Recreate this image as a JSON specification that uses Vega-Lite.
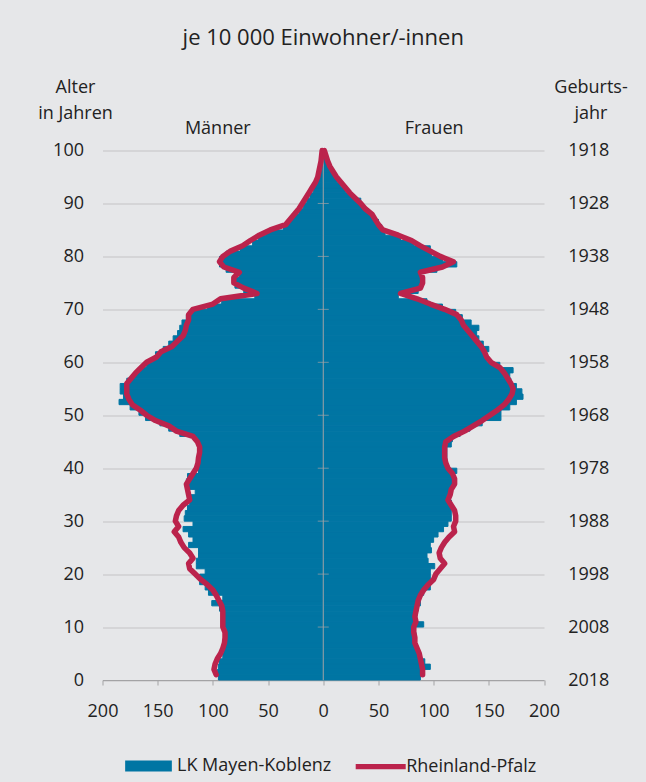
{
  "$schema": "https://vega.github.io/schema/vega-lite/v6.json",
  "width": 441.5,
  "height": 529.5,
  "autosize": {"type": "none"},
  "padding": {"left": 102.5, "top": 150.5, "right": 102, "bottom": 102},
  "background": "#e6e7e9",
  "title": {"text": "je 10 000 Einwohner/-innen", "fontSize": 22, "fontWeight": "normal", "font": "Open Sans", "color": "#222222", "anchor": "middle", "frame": "group", "offset": 28},
  "data": {"values": [
    {"age":0,"age_end":1,"sex":"M","lk":-95,"rp":-97},
    {"age":1,"age_end":2,"sex":"M","lk":-96,"rp":-99},
    {"age":2,"age_end":3,"sex":"M","lk":-95,"rp":-98},
    {"age":3,"age_end":4,"sex":"M","lk":-94,"rp":-96},
    {"age":4,"age_end":5,"sex":"M","lk":-91,"rp":-93},
    {"age":5,"age_end":6,"sex":"M","lk":-90,"rp":-91},
    {"age":6,"age_end":7,"sex":"M","lk":-89,"rp":-89.5},
    {"age":7,"age_end":8,"sex":"M","lk":-88,"rp":-89},
    {"age":8,"age_end":9,"sex":"M","lk":-88,"rp":-89},
    {"age":9,"age_end":10,"sex":"M","lk":-88,"rp":-91},
    {"age":10,"age_end":11,"sex":"M","lk":-90,"rp":-91},
    {"age":11,"age_end":12,"sex":"M","lk":-90,"rp":-91},
    {"age":12,"age_end":13,"sex":"M","lk":-90,"rp":-91},
    {"age":13,"age_end":14,"sex":"M","lk":-94,"rp":-92},
    {"age":14,"age_end":15,"sex":"M","lk":-101,"rp":-94.5},
    {"age":15,"age_end":16,"sex":"M","lk":-91,"rp":-97},
    {"age":16,"age_end":17,"sex":"M","lk":-104,"rp":-100},
    {"age":17,"age_end":18,"sex":"M","lk":-107,"rp":-105},
    {"age":18,"age_end":19,"sex":"M","lk":-112,"rp":-111},
    {"age":19,"age_end":20,"sex":"M","lk":-112,"rp":-116},
    {"age":20,"age_end":21,"sex":"M","lk":-107,"rp":-121},
    {"age":21,"age_end":22,"sex":"M","lk":-115,"rp":-122},
    {"age":22,"age_end":23,"sex":"M","lk":-115,"rp":-118},
    {"age":23,"age_end":24,"sex":"M","lk":-113,"rp":-121},
    {"age":24,"age_end":25,"sex":"M","lk":-113,"rp":-126},
    {"age":25,"age_end":26,"sex":"M","lk":-122,"rp":-129},
    {"age":26,"age_end":27,"sex":"M","lk":-118,"rp":-131},
    {"age":27,"age_end":28,"sex":"M","lk":-122,"rp":-135},
    {"age":28,"age_end":29,"sex":"M","lk":-127,"rp":-131},
    {"age":29,"age_end":30,"sex":"M","lk":-118,"rp":-134},
    {"age":30,"age_end":31,"sex":"M","lk":-126,"rp":-133},
    {"age":31,"age_end":32,"sex":"M","lk":-125,"rp":-131},
    {"age":32,"age_end":33,"sex":"M","lk":-123,"rp":-127},
    {"age":33,"age_end":34,"sex":"M","lk":-121,"rp":-121},
    {"age":34,"age_end":35,"sex":"M","lk":-122,"rp":-122},
    {"age":35,"age_end":36,"sex":"M","lk":-116,"rp":-123},
    {"age":36,"age_end":37,"sex":"M","lk":-124,"rp":-124},
    {"age":37,"age_end":38,"sex":"M","lk":-124,"rp":-121},
    {"age":38,"age_end":39,"sex":"M","lk":-123,"rp":-118},
    {"age":39,"age_end":40,"sex":"M","lk":-113,"rp":-115},
    {"age":40,"age_end":41,"sex":"M","lk":-113,"rp":-113.5},
    {"age":41,"age_end":42,"sex":"M","lk":-112,"rp":-113},
    {"age":42,"age_end":43,"sex":"M","lk":-112,"rp":-112},
    {"age":43,"age_end":44,"sex":"M","lk":-112,"rp":-112},
    {"age":44,"age_end":45,"sex":"M","lk":-112,"rp":-114},
    {"age":45,"age_end":46,"sex":"M","lk":-114,"rp":-118},
    {"age":46,"age_end":47,"sex":"M","lk":-130,"rp":-133},
    {"age":47,"age_end":48,"sex":"M","lk":-140,"rp":-140},
    {"age":48,"age_end":49,"sex":"M","lk":-148,"rp":-152},
    {"age":49,"age_end":50,"sex":"M","lk":-161,"rp":-160},
    {"age":50,"age_end":51,"sex":"M","lk":-167,"rp":-166},
    {"age":51,"age_end":52,"sex":"M","lk":-175,"rp":-173},
    {"age":52,"age_end":53,"sex":"M","lk":-185,"rp":-176},
    {"age":53,"age_end":54,"sex":"M","lk":-181,"rp":-178},
    {"age":54,"age_end":55,"sex":"M","lk":-184,"rp":-178},
    {"age":55,"age_end":56,"sex":"M","lk":-184,"rp":-178},
    {"age":56,"age_end":57,"sex":"M","lk":-178,"rp":-174},
    {"age":57,"age_end":58,"sex":"M","lk":-172,"rp":-170},
    {"age":58,"age_end":59,"sex":"M","lk":-167,"rp":-165},
    {"age":59,"age_end":60,"sex":"M","lk":-160,"rp":-160},
    {"age":60,"age_end":61,"sex":"M","lk":-154,"rp":-151},
    {"age":61,"age_end":62,"sex":"M","lk":-152,"rp":-147},
    {"age":62,"age_end":63,"sex":"M","lk":-145,"rp":-137},
    {"age":63,"age_end":64,"sex":"M","lk":-140,"rp":-132},
    {"age":64,"age_end":65,"sex":"M","lk":-136,"rp":-127},
    {"age":65,"age_end":66,"sex":"M","lk":-132,"rp":-125},
    {"age":66,"age_end":67,"sex":"M","lk":-130,"rp":-124},
    {"age":67,"age_end":68,"sex":"M","lk":-128,"rp":-122},
    {"age":68,"age_end":69,"sex":"M","lk":-124,"rp":-122},
    {"age":69,"age_end":70,"sex":"M","lk":-120,"rp":-118},
    {"age":70,"age_end":71,"sex":"M","lk":-105,"rp":-100},
    {"age":71,"age_end":72,"sex":"M","lk":-92,"rp":-93},
    {"age":72,"age_end":73,"sex":"M","lk":-62,"rp":-60},
    {"age":73,"age_end":74,"sex":"M","lk":-72,"rp":-72},
    {"age":74,"age_end":75,"sex":"M","lk":-80,"rp":-81},
    {"age":75,"age_end":76,"sex":"M","lk":-80,"rp":-81},
    {"age":76,"age_end":77,"sex":"M","lk":-76,"rp":-76},
    {"age":77,"age_end":78,"sex":"M","lk":-88,"rp":-90},
    {"age":78,"age_end":79,"sex":"M","lk":-94,"rp":-94},
    {"age":79,"age_end":80,"sex":"M","lk":-94,"rp":-91},
    {"age":80,"age_end":81,"sex":"M","lk":-88,"rp":-84},
    {"age":81,"age_end":82,"sex":"M","lk":-75,"rp":-73},
    {"age":82,"age_end":83,"sex":"M","lk":-64,"rp":-66},
    {"age":83,"age_end":84,"sex":"M","lk":-59,"rp":-58},
    {"age":84,"age_end":85,"sex":"M","lk":-52,"rp":-48},
    {"age":85,"age_end":86,"sex":"M","lk":-36,"rp":-34},
    {"age":86,"age_end":87,"sex":"M","lk":-32,"rp":-30},
    {"age":87,"age_end":88,"sex":"M","lk":-27,"rp":-26},
    {"age":88,"age_end":89,"sex":"M","lk":-22,"rp":-22},
    {"age":89,"age_end":90,"sex":"M","lk":-18,"rp":-19},
    {"age":90,"age_end":91,"sex":"M","lk":-15,"rp":-16},
    {"age":91,"age_end":92,"sex":"M","lk":-12,"rp":-13},
    {"age":92,"age_end":93,"sex":"M","lk":-9,"rp":-10},
    {"age":93,"age_end":94,"sex":"M","lk":-7,"rp":-7},
    {"age":94,"age_end":95,"sex":"M","lk":-5,"rp":-5},
    {"age":95,"age_end":96,"sex":"M","lk":-3.5,"rp":-4},
    {"age":96,"age_end":97,"sex":"M","lk":-2.5,"rp":-3},
    {"age":97,"age_end":98,"sex":"M","lk":-2,"rp":-2},
    {"age":98,"age_end":99,"sex":"M","lk":-1,"rp":-1.5},
    {"age":99,"age_end":100,"sex":"M","lk":-1,"rp":-1},
    {"age":0,"age_end":1,"sex":"F","lk":88,"rp":90},
    {"age":1,"age_end":2,"sex":"F","lk":88,"rp":90},
    {"age":2,"age_end":3,"sex":"F","lk":97,"rp":89},
    {"age":3,"age_end":4,"sex":"F","lk":92,"rp":88},
    {"age":4,"age_end":5,"sex":"F","lk":86,"rp":87},
    {"age":5,"age_end":6,"sex":"F","lk":85,"rp":85},
    {"age":6,"age_end":7,"sex":"F","lk":83,"rp":83},
    {"age":7,"age_end":8,"sex":"F","lk":84,"rp":83},
    {"age":8,"age_end":9,"sex":"F","lk":84,"rp":82},
    {"age":9,"age_end":10,"sex":"F","lk":82,"rp":82},
    {"age":10,"age_end":11,"sex":"F","lk":91,"rp":84},
    {"age":11,"age_end":12,"sex":"F","lk":84,"rp":83},
    {"age":12,"age_end":13,"sex":"F","lk":85,"rp":84},
    {"age":13,"age_end":14,"sex":"F","lk":86,"rp":85},
    {"age":14,"age_end":15,"sex":"F","lk":88,"rp":86},
    {"age":15,"age_end":16,"sex":"F","lk":88,"rp":88},
    {"age":16,"age_end":17,"sex":"F","lk":91,"rp":91},
    {"age":17,"age_end":18,"sex":"F","lk":97,"rp":95},
    {"age":18,"age_end":19,"sex":"F","lk":97,"rp":100},
    {"age":19,"age_end":20,"sex":"F","lk":97,"rp":102},
    {"age":20,"age_end":21,"sex":"F","lk":97,"rp":106},
    {"age":21,"age_end":22,"sex":"F","lk":101,"rp":110},
    {"age":22,"age_end":23,"sex":"F","lk":95,"rp":106},
    {"age":23,"age_end":24,"sex":"F","lk":94,"rp":105},
    {"age":24,"age_end":25,"sex":"F","lk":98,"rp":107},
    {"age":25,"age_end":26,"sex":"F","lk":97,"rp":110},
    {"age":26,"age_end":27,"sex":"F","lk":100,"rp":114},
    {"age":27,"age_end":28,"sex":"F","lk":104,"rp":119},
    {"age":28,"age_end":29,"sex":"F","lk":109,"rp":118},
    {"age":29,"age_end":30,"sex":"F","lk":113,"rp":120},
    {"age":30,"age_end":31,"sex":"F","lk":116,"rp":120},
    {"age":31,"age_end":32,"sex":"F","lk":116,"rp":119},
    {"age":32,"age_end":33,"sex":"F","lk":116,"rp":116},
    {"age":33,"age_end":34,"sex":"F","lk":116,"rp":113},
    {"age":34,"age_end":35,"sex":"F","lk":112,"rp":115},
    {"age":35,"age_end":36,"sex":"F","lk":114,"rp":116},
    {"age":36,"age_end":37,"sex":"F","lk":118,"rp":119},
    {"age":37,"age_end":38,"sex":"F","lk":118,"rp":119},
    {"age":38,"age_end":39,"sex":"F","lk":118,"rp":117},
    {"age":39,"age_end":40,"sex":"F","lk":121,"rp":113},
    {"age":40,"age_end":41,"sex":"F","lk":112,"rp":111},
    {"age":41,"age_end":42,"sex":"F","lk":112,"rp":110},
    {"age":42,"age_end":43,"sex":"F","lk":112,"rp":110},
    {"age":43,"age_end":44,"sex":"F","lk":112,"rp":110},
    {"age":44,"age_end":45,"sex":"F","lk":116,"rp":111},
    {"age":45,"age_end":46,"sex":"F","lk":117,"rp":118},
    {"age":46,"age_end":47,"sex":"F","lk":124,"rp":128},
    {"age":47,"age_end":48,"sex":"F","lk":133,"rp":136},
    {"age":48,"age_end":49,"sex":"F","lk":144,"rp":144},
    {"age":49,"age_end":50,"sex":"F","lk":161,"rp":151},
    {"age":50,"age_end":51,"sex":"F","lk":161,"rp":158},
    {"age":51,"age_end":52,"sex":"F","lk":169,"rp":164},
    {"age":52,"age_end":53,"sex":"F","lk":175,"rp":168},
    {"age":53,"age_end":54,"sex":"F","lk":181,"rp":171},
    {"age":54,"age_end":55,"sex":"F","lk":180,"rp":172},
    {"age":55,"age_end":56,"sex":"F","lk":175,"rp":170},
    {"age":56,"age_end":57,"sex":"F","lk":170,"rp":167},
    {"age":57,"age_end":58,"sex":"F","lk":169,"rp":164},
    {"age":58,"age_end":59,"sex":"F","lk":172,"rp":160},
    {"age":59,"age_end":60,"sex":"F","lk":160,"rp":152},
    {"age":60,"age_end":61,"sex":"F","lk":148,"rp":148},
    {"age":61,"age_end":62,"sex":"F","lk":148,"rp":146},
    {"age":62,"age_end":63,"sex":"F","lk":150,"rp":143},
    {"age":63,"age_end":64,"sex":"F","lk":145,"rp":139},
    {"age":64,"age_end":65,"sex":"F","lk":141,"rp":135},
    {"age":65,"age_end":66,"sex":"F","lk":139,"rp":131},
    {"age":66,"age_end":67,"sex":"F","lk":141,"rp":127},
    {"age":67,"age_end":68,"sex":"F","lk":134,"rp":125},
    {"age":68,"age_end":69,"sex":"F","lk":126,"rp":121},
    {"age":69,"age_end":70,"sex":"F","lk":120,"rp":110},
    {"age":70,"age_end":71,"sex":"F","lk":108,"rp":97},
    {"age":71,"age_end":72,"sex":"F","lk":94,"rp":85},
    {"age":72,"age_end":73,"sex":"F","lk":68,"rp":70},
    {"age":73,"age_end":74,"sex":"F","lk":86,"rp":88},
    {"age":74,"age_end":75,"sex":"F","lk":90,"rp":90},
    {"age":75,"age_end":76,"sex":"F","lk":90,"rp":90},
    {"age":76,"age_end":77,"sex":"F","lk":88,"rp":88},
    {"age":77,"age_end":78,"sex":"F","lk":103,"rp":108},
    {"age":78,"age_end":79,"sex":"F","lk":121,"rp":118},
    {"age":79,"age_end":80,"sex":"F","lk":108,"rp":106},
    {"age":80,"age_end":81,"sex":"F","lk":98,"rp":97},
    {"age":81,"age_end":82,"sex":"F","lk":97,"rp":88},
    {"age":82,"age_end":83,"sex":"F","lk":82,"rp":80},
    {"age":83,"age_end":84,"sex":"F","lk":70,"rp":68},
    {"age":84,"age_end":85,"sex":"F","lk":56,"rp":54},
    {"age":85,"age_end":86,"sex":"F","lk":53,"rp":50},
    {"age":86,"age_end":87,"sex":"F","lk":50,"rp":47},
    {"age":87,"age_end":88,"sex":"F","lk":45,"rp":44},
    {"age":88,"age_end":89,"sex":"F","lk":40,"rp":38},
    {"age":89,"age_end":90,"sex":"F","lk":36,"rp":34},
    {"age":90,"age_end":91,"sex":"F","lk":34,"rp":29},
    {"age":91,"age_end":92,"sex":"F","lk":26,"rp":24},
    {"age":92,"age_end":93,"sex":"F","lk":20,"rp":20},
    {"age":93,"age_end":94,"sex":"F","lk":16,"rp":16},
    {"age":94,"age_end":95,"sex":"F","lk":12,"rp":12},
    {"age":95,"age_end":96,"sex":"F","lk":9,"rp":9},
    {"age":96,"age_end":97,"sex":"F","lk":6,"rp":6},
    {"age":97,"age_end":98,"sex":"F","lk":4,"rp":4},
    {"age":98,"age_end":99,"sex":"F","lk":2.5,"rp":2.5},
    {"age":99,"age_end":100,"sex":"F","lk":1.5,"rp":1}
  ]},
  "layer": [
    {
      "mark": {"type": "bar", "stroke": "#0075a3", "strokeWidth": 1},
      "encoding": {
        "y": {"field": "age", "type": "quantitative", "scale": {"domain": [0, 100], "nice": false},
          "axis": {"orient": "left", "values": [0,10,20,30,40,50,60,70,80,90,100], "grid": true, "gridColor": "#c3c3c5", "gridWidth": 1.2, "domain": false, "ticks": false, "tickSize": 0, "labelPadding": 19,
            "title": ["Alter", "in Jahren"], "titleAngle": 0, "titleAlign": "center", "titleBaseline": "alphabetic", "titleX": -27.5, "titleY": -58.2, "titleFontSize": 18, "titleFontWeight": "normal", "titleLineHeight": 26.5, "titleColor": "#222222", "titleFont": "Open Sans"}},
        "y2": {"field": "age_end"},
        "x": {"field": "lk", "type": "quantitative", "scale": {"domain": [-200, 200], "nice": false},
          "axis": {"orient": "bottom", "values": [-200,-150,-100,-50,0,50,100,150,200], "labelExpr": "'' + abs(datum.value)", "labelFlush": false, "grid": false, "domain": true, "domainColor": "#a3a3a5", "domainWidth": 1, "ticks": true, "tickColor": "#a3a3a5", "tickSize": 5, "tickWidth": 1, "labelPadding": 31, "labelBaseline": "alphabetic", "title": null}},
        "x2": {"datum": 0},
        "fill": {"datum": "LK Mayen-Koblenz", "type": "nominal", "scale": {"range": ["#0075a3"]},
          "legend": {"orient": "none", "legendX": 22.5, "legendY": 592, "title": null, "symbolType": "M-1,-0.2355H1V0.2355H-1Z", "symbolSize": 2181, "symbolStrokeWidth": 0, "labelOffset": 5, "labelLimit": 300}}
      }
    },
    {
      "data": {"values": [{}]},
      "mark": {"type": "rule", "color": "#a3a3a5", "strokeWidth": 1},
      "encoding": {
        "x": {"datum": 0, "type": "quantitative", "axis": null},
        "y": {"datum": 0, "type": "quantitative", "axis": null},
        "y2": {"datum": 100}
      }
    },
    {
      "transform": [{"filter": "datum.sex == 'F' && datum.age > 0 && datum.age % 10 == 0"}],
      "mark": {"type": "tick", "orient": "horizontal", "size": 11, "thickness": 1, "color": "#a3a3a5"},
      "encoding": {
        "x": {"datum": 0, "type": "quantitative", "axis": null},
        "y": {"field": "age", "type": "quantitative", "axis": null}
      }
    },
    {
      "mark": {"type": "line", "strokeWidth": 5.5, "strokeCap": "round", "strokeJoin": "round"},
      "encoding": {
        "x": {"field": "rp", "type": "quantitative",
          "axis": {"orient": "top", "values": [-96, 100], "labelExpr": "datum.value < 0 ? 'Männer' : 'Frauen'", "labelFlush": false, "grid": false, "domain": false, "ticks": false, "tickSize": 0, "labelPadding": 17.2, "labelBaseline": "alphabetic", "title": null}},
        "y": {"field": "age_end", "type": "quantitative",
          "axis": {"orient": "right", "values": [0,10,20,30,40,50,60,70,80,90,100], "labelExpr": "'' + (2018 - datum.value)", "grid": false, "domain": false, "ticks": false, "tickSize": 0, "labelPadding": 23.7,
            "title": ["Geburts-", "jahr"], "titleAngle": 0, "titleAlign": "center", "titleBaseline": "alphabetic", "titleX": 46.5, "titleY": -58.2, "titleFontSize": 18, "titleFontWeight": "normal", "titleLineHeight": 26.5, "titleColor": "#222222", "titleFont": "Open Sans"}},
        "detail": {"field": "sex"},
        "order": {"field": "age", "type": "quantitative"},
        "stroke": {"datum": "Rheinland-Pfalz", "type": "nominal", "scale": {"range": ["#bb234c"]},
          "legend": {"orient": "none", "legendX": 250.2, "legendY": 588.2, "title": null, "symbolType": "stroke", "symbolSize": 2500, "symbolStrokeWidth": 5.3, "labelOffset": -2.5, "labelLimit": 300}}
      }
    }
  ],
  "resolve": {"axis": {"x": "independent", "y": "independent"}},
  "config": {
    "font": "Open Sans",
    "view": {"stroke": null},
    "axis": {"labelFont": "Open Sans", "labelFontSize": 18, "labelColor": "#222222"},
    "legend": {"labelFont": "Open Sans", "labelFontSize": 18, "labelColor": "#222222"}
  }
}
